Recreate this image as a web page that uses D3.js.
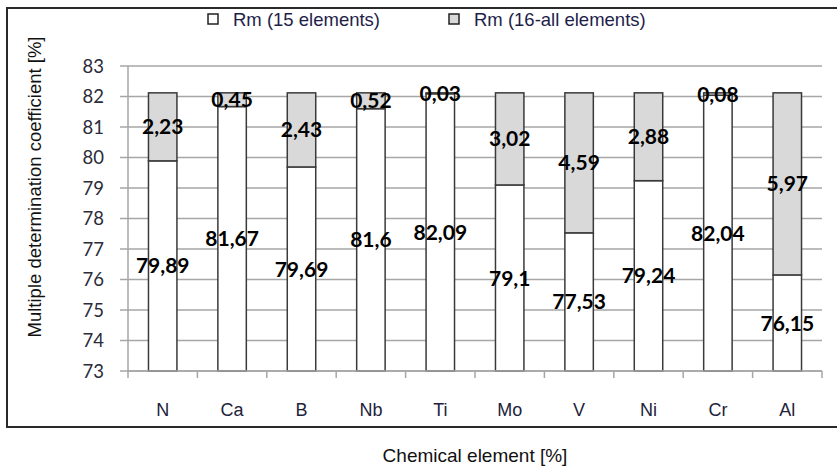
<!DOCTYPE html>
<html>
<head>
<meta charset="utf-8">
<script src="https://cdn.jsdelivr.net/npm/d3@7"></script>
<style>
  html, body { margin: 0; padding: 0; background: #fff; }
  svg { display: block; }
  .narrow { font-family: "Liberation Sans", Arial, sans-serif; }
  .cal { font-family: Lato, "Open Sans", sans-serif; }
</style>
</head>
<body>
<svg id="chart" width="837" height="471"></svg>
<script>
const categories = ["N", "Ca", "B", "Nb", "Ti", "Mo", "V", "Ni", "Cr", "Al"];
const rm15 = [79.89, 81.67, 79.69, 81.6, 82.09, 79.1, 77.53, 79.24, 82.04, 76.15];
const rmAll = [2.23, 0.45, 2.43, 0.52, 0.03, 3.02, 4.59, 2.88, 0.08, 5.97];
const rm15Labels = ["79,89", "81,67", "79,69", "81,6", "82,09", "79,1", "77,53", "79,24", "82,04", "76,15"];
const rmAllLabels = ["2,23", "0,45", "2,43", "0,52", "0,03", "3,02", "4,59", "2,88", "0,08", "5,97"];
const yTicks = [73, 74, 75, 76, 77, 78, 79, 80, 81, 82, 83];
const seriesNames = ["Rm (15 elements)", "Rm (16-all elements)"];
const yTitle = "Multiple determination coefficient  [%]";
const xTitle = "Chemical element [%]";

const svg = d3.select("#chart");
const W = 837, H = 471;
const plot = { left: 128, right: 822, top: 66, bottom: 371 };

const x = d3.scaleBand().domain(categories).range([plot.left, plot.right]).paddingInner(0.59).paddingOuter(0.295);
const xOuter = d3.scaleBand().domain(categories).range([plot.left, plot.right]);
const y = d3.scaleLinear().domain([73, 83]).range([plot.bottom, plot.top]);

// frame
svg.append("path")
  .attr("d", `M ${W + 5} 8 H 7 V 427 H ${W + 5}`)
  .attr("fill", "none").attr("stroke", "#2a2a2a").attr("stroke-width", 2);

// gridlines
svg.append("g").selectAll("line").data(yTicks).join("line")
  .attr("x1", plot.left - 8).attr("x2", plot.right)
  .attr("y1", d => y(d)).attr("y2", d => y(d))
  .attr("stroke", "#a6a6a6").attr("stroke-width", 1.5);

// y axis line
svg.append("line").attr("x1", plot.left).attr("x2", plot.left)
  .attr("y1", plot.top).attr("y2", plot.bottom + 1)
  .attr("stroke", "#a6a6a6").attr("stroke-width", 1.5);

// y tick labels
svg.append("g").selectAll("text").data(yTicks).join("text")
  .attr("class", "cal")
  .attr("x", 104).attr("y", d => y(d)).attr("dy", "0.36em")
  .attr("text-anchor", "end").attr("font-size", 18.5).attr("fill", "#2b2b3a")
  .text(d => d);

// x axis ticks
const bounds = [plot.left].concat(categories.map(c => xOuter(c) + xOuter.bandwidth()));
svg.append("g").selectAll("line").data(bounds).join("line")
  .attr("x1", d => d).attr("x2", d => d)
  .attr("y1", plot.bottom).attr("y2", plot.bottom + 7)
  .attr("stroke", "#a6a6a6").attr("stroke-width", 1.5);

// bars
const stack = categories.map((c, i) => ({ c, i, a: rm15[i], b: rmAll[i] }));
svg.append("g").selectAll("rect").data(stack).join("rect")
  .attr("x", d => x(d.c)).attr("width", x.bandwidth())
  .attr("y", d => y(d.a)).attr("height", d => y(73) - y(d.a))
  .attr("fill", "#ffffff").attr("stroke", "#3a3a3a").attr("stroke-width", 1.5);
svg.append("g").selectAll("rect").data(stack).join("rect")
  .attr("x", d => x(d.c)).attr("width", x.bandwidth())
  .attr("y", d => y(d.a + d.b)).attr("height", d => y(d.a) - y(d.a + d.b))
  .attr("fill", "#d9d9d9").attr("stroke", "#3a3a3a").attr("stroke-width", 1.5);

// x axis line
svg.append("line").attr("x1", plot.left).attr("x2", plot.right)
  .attr("y1", plot.bottom).attr("y2", plot.bottom)
  .attr("stroke", "#a6a6a6").attr("stroke-width", 1.5);

// data labels
const lbl = svg.append("g").attr("class", "cal").attr("font-weight", "bold").attr("font-size", 21)
  .attr("text-anchor", "middle").attr("fill", "#000");
lbl.selectAll("text.lo").data(stack).join("text").attr("class", "lo")
  .attr("x", d => x(d.c) + x.bandwidth() / 2)
  .attr("y", d => y((73 + d.a) / 2)).attr("dy", "0.36em")
  .text(d => rm15Labels[d.i]);
lbl.selectAll("text.hi").data(stack).join("text").attr("class", "hi")
  .attr("x", d => x(d.c) + x.bandwidth() / 2)
  .attr("y", d => y(d.a + d.b / 2)).attr("dy", "0.36em")
  .text(d => rmAllLabels[d.i]);

// category labels
svg.append("g").selectAll("text").data(categories).join("text")
  .attr("class", "narrow")
  .attr("x", d => xOuter(d) + xOuter.bandwidth() / 2).attr("y", 410).attr("dy", "0.36em")
  .attr("text-anchor", "middle").attr("font-size", 18).attr("fill", "#22223a")
  .text(d => d);

// legend
const legendX = [208, 449];
const lg = svg.append("g");
seriesNames.forEach((s, i) => {
  lg.append("rect").attr("x", legendX[i]).attr("y", 14).attr("width", 10).attr("height", 10)
    .attr("fill", i === 0 ? "#ffffff" : "#d9d9d9").attr("stroke", "#222").attr("stroke-width", 1.5);
  lg.append("text").attr("class", "narrow").attr("x", legendX[i] + 25).attr("y", 19).attr("dy", "0.36em")
    .attr("font-size", 18.5).attr("fill", "#1e1e4a").text(s);
});

// titles
svg.append("text").attr("class", "narrow")
  .attr("transform", "translate(34,187) rotate(-90)")
  .attr("text-anchor", "middle").attr("dy", "0.36em")
  .attr("font-size", 18.5).attr("fill", "#111").text(yTitle);
svg.append("text").attr("class", "narrow")
  .attr("x", 475).attr("y", 455).attr("dy", "0.36em")
  .attr("text-anchor", "middle").attr("font-size", 19).attr("fill", "#111").text(xTitle);
</script>
</body>
</html>
